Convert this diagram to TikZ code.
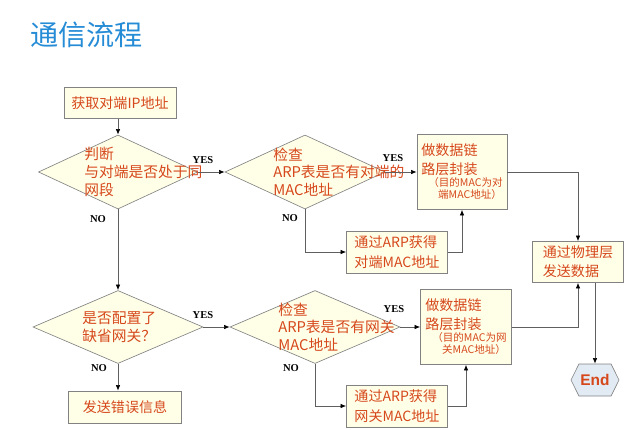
\documentclass[tikz,border=0pt]{standalone}
\usepackage{fontspec}
\usepackage{tikz}
\usetikzlibrary{arrows.meta}
\usetikzlibrary{shapes.geometric}
\usetikzlibrary{shapes.symbols}
\newfontfamily\cjk{Noto Sans CJK SC}
\newfontfamily\ynfont{Liberation Serif}
\newfontfamily\endfont{Liberation Sans}
\definecolor{titleblue}{RGB}{38,140,214}
\definecolor{txtred}{RGB}{214,72,28}
\definecolor{boxfill}{RGB}{255,255,232}
\definecolor{boxgray}{RGB}{130,130,130}
\definecolor{linegray}{RGB}{95,95,95}
\definecolor{endfill}{RGB}{226,234,243}

\tikzset{
  box/.style={draw=boxgray, fill=boxfill, line width=0.016cm, text=txtred,
    font=\cjk\fontsize{10}{14.5}\selectfont, inner sep=0pt, align=left},
  decision/.style={diamond, draw=boxgray, fill=boxfill, line width=0.016cm, inner sep=0pt},
  dtext/.style={text=txtred, font=\cjk\fontsize{10.5}{12.6}\selectfont,
    align=left, inner sep=0pt, anchor=west},
  flow/.style={draw=linegray, line width=0.016cm, -{Latex[length=4pt,width=3.2pt,black]}},
  yn/.style={font=\ynfont\bfseries\fontsize{7.5}{8}\selectfont, inner sep=0pt}
}
\newcommand{\encnote}{\fontsize{7.5}{8}\selectfont}

\begin{document}
\begin{tikzpicture}[x=0.025cm,y=-0.025cm]
                \useasboundingbox (0,0) rectangle (640,429);

                % Title
                \node [anchor=west, inner sep=0pt, text=titleblue, font=\cjk\fontsize{20}{24}\selectfont] (title) at (30,35) {通信流程};

                % Boxes
                \node [box, minimum width=2.8cm, minimum height=0.775cm] (getip) at (120,103) {获取对端IP地址};
                \node [box, minimum width=2.25cm, minimum height=1.875cm] (enc1) at (462,172)
                  {做数据链\\[-1pt]路层封装\\[-6pt]{\encnote\hspace*{5pt}（目的MAC为对}\\[-6pt]{\encnote\hspace*{12pt}端MAC地址）}};
                \node [box, minimum width=2.525cm, minimum height=1.05cm] (arp1) at (397,252) {通过ARP获得\\对端MAC地址};
                \node [box, minimum width=2.275cm, minimum height=1.025cm, font=\cjk\fontsize{10}{13.5}\selectfont] (phys) at (578,262) {通过物理层\\发送数据};
                \node [box, minimum width=2.275cm, minimum height=1.875cm] (enc2) at (466,327)
                  {做数据链\\[-1pt]路层封装\\[-6pt]{\encnote\hspace*{5pt}（目的MAC为网}\\[-6pt]{\encnote\hspace*{12pt}关MAC地址）}};
                \node [box, minimum width=2.525cm, minimum height=1.05cm] (arp2) at (397,406) {通过ARP获得\\网关MAC地址};
                \node [box, minimum width=2.825cm, minimum height=0.8cm] (err) at (125,407) {发送错误信息};
                \node [shape=signal, signal to=west and east, signal pointer angle=127,
                  draw=boxgray, fill=endfill, line width=0.016cm, inner sep=0pt,
                  minimum width=1.2cm, minimum height=0.8cm, text=txtred,
                  font=\endfont\bfseries\fontsize{11}{12}\selectfont] (endn) at (595,380) {End};

                % Decisions
                \node [decision, minimum width=3.975cm, minimum height=1.85cm] (d1) at (118,172) {};
                \node [decision, minimum width=4cm, minimum height=1.85cm] (d2) at (305,172) {};
                \node [decision, minimum width=4.25cm, minimum height=1.825cm] (d3) at (118,327) {};
                \node [decision, minimum width=4.25cm, minimum height=1.825cm] (d4) at (315,327) {};
                \node [dtext] (d1t) at (84,172) {判断\\与对端是否处于同\\网段};
                \node [dtext] (d2t) at (273,172) {检查\\ARP表是否有对端的\\MAC地址};
                \node [dtext] (d3t) at (82,327) {是否配置了\\缺省网关？};
                \node [dtext] (d4t) at (278,327) {检查\\ARP表是否有网关\\MAC地址};

                % Drawing connectors
                \draw [flow] (d1.north |- getip.south) -- (d1.north);
                \draw [flow] (d1.east) -- (d2.west);
                \draw [flow] (d2.east) -- (enc1.west);
                \draw [flow] (d2.south) |- (arp1.west);
                \draw [flow] (arp1.east) -| (enc1.south);
                \draw [flow] (enc1.east) -| (phys.north);
                \draw [flow] (d1.south) -- (d3.north);
                \draw [flow] (d3.east) -- (d4.west);
                \draw [flow] (d4.east) -- (enc2.west);
                \draw [flow] (d4.south) |- (arp2.west);
                \draw [flow] (arp2.east) -| (enc2.south);
                \draw [flow] (enc2.east) -| (phys.south);
                \draw [flow] (phys.south -| endn.north) -- (endn.north);
                \draw [flow] (d3.south) -- (d3.south |- err.north);

                % Marking YES and NO
                \node [yn] (yes1) at (203,160) {YES};
                \node [yn] (yes2) at (393,158) {YES};
                \node [yn] (yes3) at (203,315) {YES};
                \node [yn] (yes4) at (394,309) {YES};
                \node [yn] (no1) at (98,219) {NO};
                \node [yn] (no2) at (290,218) {NO};
                \node [yn] (no3) at (99,368) {NO};
                \node [yn] (no4) at (291,368) {NO};
\end{tikzpicture}
\end{document}
